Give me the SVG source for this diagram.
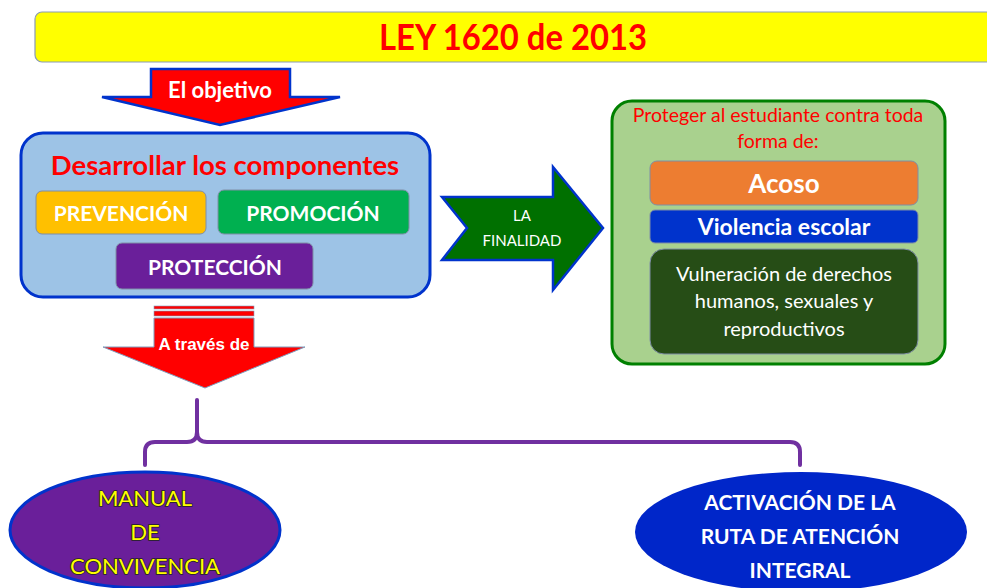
<svg xmlns="http://www.w3.org/2000/svg" width="987" height="588" viewBox="0 0 987 588">
<style>
text{font-family:Lato,"Open Sans","Liberation Sans",sans-serif;text-anchor:middle}
.w{fill:#fff}
.b{font-weight:bold}
.box{stroke:#7f8ea6;stroke-width:1}
.y{fill:#ffff00;stroke:#222;stroke-width:1.6;paint-order:stroke;font-size:22px}
</style>
<rect width="987" height="588" fill="#fff"/>
<g id="title">
<rect x="35" y="12" width="970" height="50" rx="7" fill="#ffff00" stroke="#8a9bb5" stroke-width="1.2"/>
<text x="513" y="50" font-size="36" font-weight="bold" fill="#ff0000" textLength="268" lengthAdjust="spacingAndGlyphs">LEY 1620 de 2013</text>
</g>
<g id="objetivo">
<polygon points="151,69 290,69 290,97 340,97 220,125 102,97 151,97" fill="#ff0000" stroke="#0033cc" stroke-width="2.5" stroke-linejoin="miter"/>
<text x="220" y="98" font-size="22" class="w b">El objetivo</text>
</g>
<g id="componentes">
<rect x="21" y="133" width="409" height="164" rx="22" fill="#9dc3e6" stroke="#0033cc" stroke-width="3"/>
<text x="225" y="175" font-size="27.5" class="b" fill="#ff0000">Desarrollar los componentes</text>
</g>
<g id="prevencion">
<rect x="36" y="191" width="170" height="43" rx="6" fill="#ffc000" class="box"/>
<text x="121" y="221" font-size="21" class="w b">PREVENCIÓN</text>
</g>
<g id="promocion">
<rect x="218" y="190" width="191" height="44" rx="6" fill="#00b050" class="box"/>
<text x="313" y="221" font-size="21" class="w b">PROMOCIÓN</text>
</g>
<g id="proteccion">
<rect x="116" y="243" width="197" height="46" rx="6" fill="#6a1f9a" class="box"/>
<text x="215" y="275" font-size="21" class="w b">PROTECCIÓN</text>
</g>
<g id="finalidad">
<polygon points="442,197 553,197 553,167 603,228 553,290 553,260 442,260 467,228" fill="#007000" stroke="#0033cc" stroke-width="2.5"/>
<text x="522" y="221" font-size="15" class="w">LA</text>
<text x="522" y="246" font-size="15" class="w">FINALIDAD</text>
</g>
<g id="proteger">
<rect x="612" y="101" width="333" height="263" rx="20" fill="#a9d18e" stroke="#008000" stroke-width="3"/>
<text x="778" y="122" font-size="19.5" fill="#ff0000">Proteger al estudiante contra toda</text>
<text x="778" y="148" font-size="19.5" fill="#ff0000">forma de:</text>
</g>
<g id="acoso">
<rect x="650" y="161" width="268" height="44" rx="7" fill="#ed7d31" class="box"/>
<text x="784" y="193" font-size="26" class="w b">Acoso</text>
</g>
<g id="violencia">
<rect x="650" y="210" width="268" height="33" rx="5" fill="#0033cc" class="box"/>
<text x="784" y="235" font-size="23" class="w b">Violencia escolar</text>
</g>
<g id="vulneracion">
<rect x="650" y="249" width="268" height="105" rx="14" fill="#264d16" class="box"/>
<text x="784" y="281" font-size="20" class="w">Vulneración de derechos</text>
<text x="784" y="308" font-size="20" class="w">humanos, sexuales y</text>
<text x="784" y="336" font-size="20" class="w">reproductivos</text>
</g>
<g id="atraves">
<rect x="154" y="306" width="100" height="3" fill="#ff0000" stroke="#7f9fbf" stroke-width="0.6"/>
<rect x="154" y="311" width="100" height="5" fill="#ff0000" stroke="#7f9fbf" stroke-width="0.6"/>
<polygon points="154,318 254,318 254,347 305,347 205,388 103,347 154,347" fill="#ff0000" stroke="#7f9fbf" stroke-width="1"/>
<text x="204" y="350" font-size="17" class="w b" style="font-family:'Liberation Sans',Arial,sans-serif">A través de</text>
</g>
<g id="connectors">
<path d="M197,400 L197,432 Q197,442 187,442 L155,442 Q145,442 145,452 L145,465 M197,432 Q197,442 207,442 L790,442 Q800,442 800,452 L800,465" fill="none" stroke="#7030a0" stroke-width="4" stroke-linecap="round"/>
</g>
<g id="manual">
<ellipse cx="145" cy="530" rx="135" ry="58" fill="#6a1f9a" stroke="#0033cc" stroke-width="3"/>
<text x="145" y="506" class="y">MANUAL</text>
<text x="145" y="540" class="y">DE</text>
<text x="145" y="574" class="y">CONVIVENCIA</text>
</g>
<g id="ruta">
<ellipse cx="801" cy="532" rx="166" ry="60" fill="#0026c9"/>
<text x="800" y="510" font-size="21" class="w b">ACTIVACIÓN DE LA</text>
<text x="800" y="544" font-size="21" class="w b">RUTA DE ATENCIÓN</text>
<text x="800" y="578" font-size="21" class="w b">INTEGRAL</text>
</g>
</svg>
